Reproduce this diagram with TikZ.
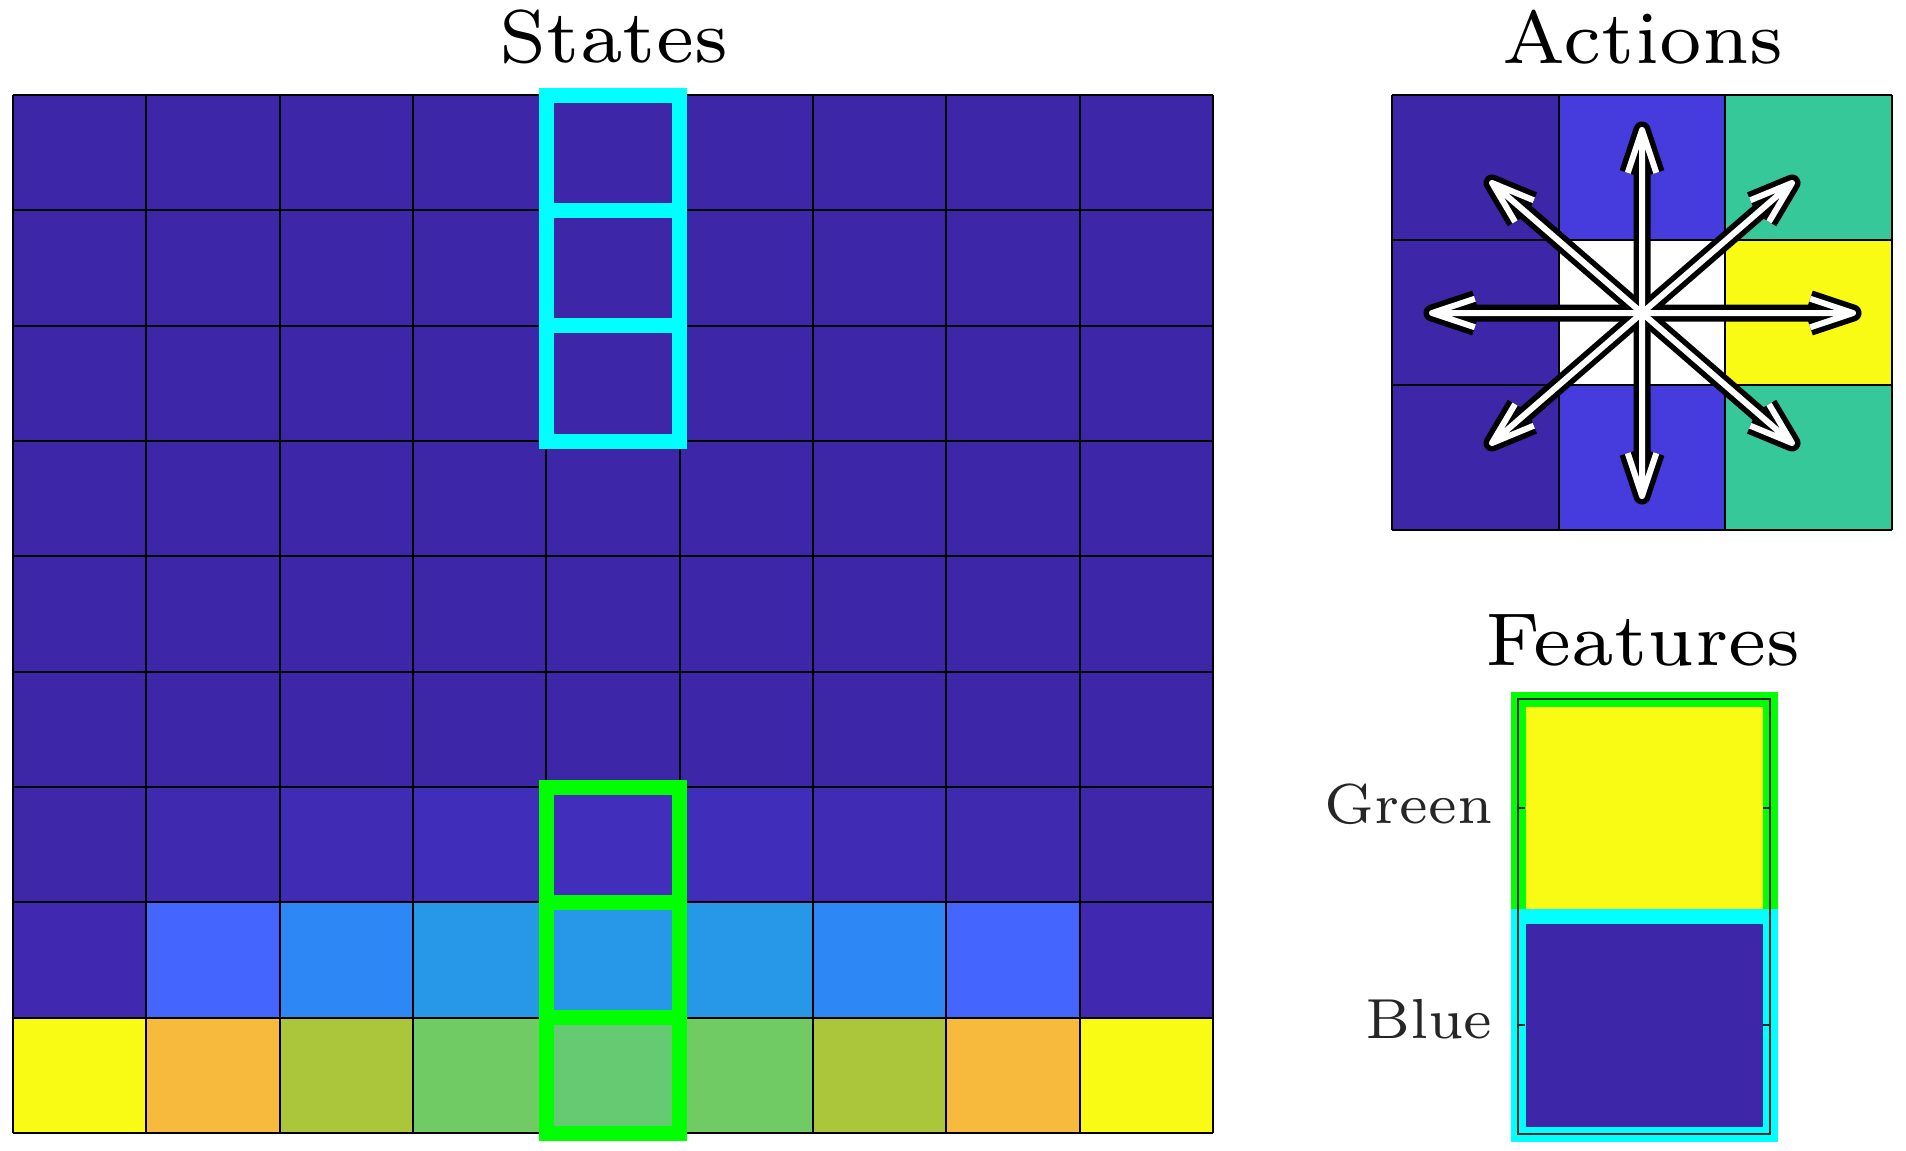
\documentclass[tikz,border=0pt]{standalone}
\usepackage{graphicx}
\usetikzlibrary{calc}
\definecolor{pD}{HTML}{3E26A8}
\definecolor{rSa}{HTML}{3E27A9}
\definecolor{rSb}{HTML}{3F29AF}
\definecolor{rSc}{HTML}{3F2BB4}
\definecolor{rSd}{HTML}{402EBA}
\definecolor{rSe}{HTML}{412FBC}
\definecolor{rTa}{HTML}{4029B0}
\definecolor{rTb}{HTML}{4566FE}
\definecolor{rTc}{HTML}{2D88F5}
\definecolor{rTd}{HTML}{2797E8}
\definecolor{rTe}{HTML}{2797E8}
\definecolor{rUa}{HTML}{F9FB15}
\definecolor{rUb}{HTML}{F7BA3D}
\definecolor{rUc}{HTML}{ABC63A}
\definecolor{rUd}{HTML}{70CB64}
\definecolor{rUe}{HTML}{65CA72}
\definecolor{aMid}{HTML}{463BDC}
\definecolor{aTeal}{HTML}{37C899}
\definecolor{pY}{HTML}{F9FB15}
\definecolor{hiCyan}{RGB}{0,255,255}
\definecolor{hiGreen}{RGB}{0,255,0}
\definecolor{axGray}{HTML}{262626}
\tikzset{
  gridline/.style={black, line width=1pt},
  hibox/.style={line width=7.5pt},
  arrowout/.style={black, line width=8.5pt, line join=round, line cap=butt},
  arrowin/.style={white, line width=3pt, line join=round, line cap=butt},
  ttl/.style={anchor=base, inner sep=0pt, text=black},
  lbl/.style={anchor=base east, inner sep=0pt, text=axGray},
}
\newcommand{\ttltext}[1]{\scalebox{5.35}{\fontsize{7}{8}\selectfont #1}}
\newcommand{\lbltext}[1]{\scalebox{4.03}{\fontsize{7}{8}\selectfont #1}}
\begin{document}
\begin{tikzpicture}[x=0.5pt,y=-0.5pt]
\useasboundingbox (0,0) rectangle (1906,1151);
\fill[white] (0,0) rectangle (1906,1151);

% ---------------- States ----------------
\def\cw{133.333}
\def\ch{115.333}
\fill[pD] (13,95) rectangle (1213,1133);
\foreach \c [count=\i from 0] in {rSa,rSb,rSc,rSd,rSe,rSd,rSc,rSb,rSa}
  \fill[\c] ({13+\i*\cw},{95+6*\ch}) rectangle ++(\cw,\ch);
\foreach \c [count=\i from 0] in {rTa,rTb,rTc,rTd,rTe,rTd,rTc,rTb,rTa}
  \fill[\c] ({13+\i*\cw},{95+7*\ch}) rectangle ++(\cw,\ch);
\foreach \c [count=\i from 0] in {rUa,rUb,rUc,rUd,rUe,rUd,rUc,rUb,rUa}
  \fill[\c] ({13+\i*\cw},{95+8*\ch}) rectangle ++(\cw,\ch);
\foreach \i in {0,...,9} {
  \draw[gridline] ({13+\i*\cw},95) -- ({13+\i*\cw},1133);
  \draw[gridline] (13,{95+\i*\ch}) -- (1213,{95+\i*\ch});
}
\foreach \r in {0,1,2}
  \draw[hibox, hiCyan] ({13+4*\cw},{95+\r*\ch}) rectangle ++(\cw,\ch);
\foreach \r in {6,7,8}
  \draw[hibox, hiGreen] ({13+4*\cw},{95+\r*\ch}) rectangle ++(\cw,\ch);
\node[ttl] (tStates) at (614,62) {\ttltext{States}};

% ---------------- Actions ----------------
\def\aw{166.667}
\def\ah{145}
\foreach \c [count=\i from 0] in {pD,aMid,aTeal}
  \fill[\c] ({1392+\i*\aw},95) rectangle ++(\aw,\ah);
\foreach \c [count=\i from 0] in {pD,white,pY}
  \fill[\c] ({1392+\i*\aw},{95+\ah}) rectangle ++(\aw,\ah);
\foreach \c [count=\i from 0] in {pD,aMid,aTeal}
  \fill[\c] ({1392+\i*\aw},{95+2*\ah}) rectangle ++(\aw,\ah);
\foreach \i in {0,...,3} {
  \draw[gridline] ({1392+\i*\aw},95) -- ({1392+\i*\aw},530);
  \draw[gridline] (1392,{95+\i*\ah}) -- (1892,{95+\i*\ah});
}
\coordinate (ac) at (1642,313);
\coordinate (tE) at (1853,313);
\coordinate (tW) at (1432,313);
\coordinate (tN) at (1642,130);
\coordinate (tS) at (1642,496);
\coordinate (tNE) at (1792,183);
\coordinate (tNW) at (1492,183);
\coordinate (tSE) at (1792,443);
\coordinate (tSW) at (1492,443);
\foreach \s in {arrowout,arrowin}
  \foreach \t in {tE,tW,tN,tS,tNE,tNW,tSE,tSW}
    \draw[\s] (ac) -- (\t)
      ($(\t)!22.6pt!18.43:(ac)$) -- (\t) -- ($(\t)!22.6pt!-18.43:(ac)$);
\node[ttl] (tActions) at (1643,63) {\ttltext{Actions}};

% ---------------- Features ----------------
\fill[pY] (1518,699) rectangle (1770,916.5);
\fill[pD] (1518,916.5) rectangle (1770,1134);
\draw[hibox, hiGreen] (1518,699) rectangle (1770,916.5);
\draw[hibox, hiCyan] (1518,916.5) rectangle (1770,1134);
\draw[axGray, line width=1pt] (1518,699) rectangle (1770,1134);
\foreach \y in {807.75,1025.25} {
  \draw[axGray, line width=1pt] (1518,\y) -- (1525,\y);
  \draw[axGray, line width=1pt] (1770,\y) -- (1763,\y);
}
\node[ttl] (tFeatures) at (1643,665) {\ttltext{Features}};
\node[lbl] (lGreen) at (1493,823) {\lbltext{Green}};
\node[lbl] (lBlue) at (1493,1038) {\lbltext{Blue}};
\end{tikzpicture}
\end{document}
